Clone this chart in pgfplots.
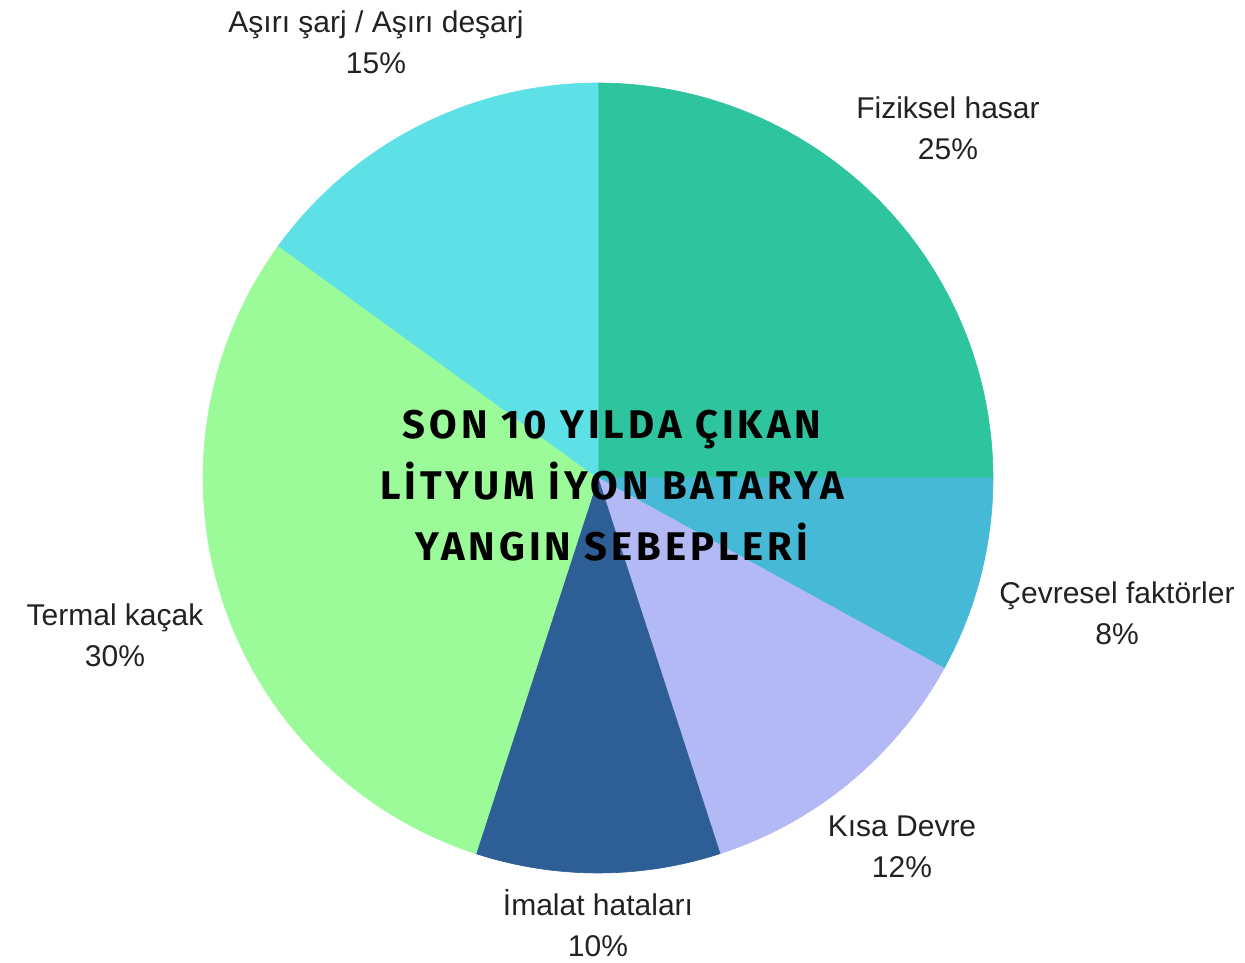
\documentclass[border=0pt]{standalone}
\usepackage{fontspec}
\setmainfont{Liberation Sans}
\newfontfamily\titlefont[LetterSpace=10]{Fira Sans}
\usepackage{pgfplots}
\pgfplotsset{compat=1.18}
\definecolor{cFiz}{HTML}{2EC49E}
\definecolor{cCev}{HTML}{45B9D6}
\definecolor{cKisa}{HTML}{B2B9F4}
\definecolor{cIma}{HTML}{2E5E96}
\definecolor{cTer}{HTML}{9CFB99}
\definecolor{cAsi}{HTML}{5DE0E6}
\definecolor{lbl}{HTML}{222222}
% #1 = cumulative percent before the slice, #2 = percent of the slice, #3 = colour
\newcommand{\slice}[3]{%
  \pgfmathsetmacro\sa{90-3.6*(#1)}%
  \pgfmathsetmacro\sb{90-3.6*(#1+#2)}%
  \edef\temp{\noexpand\addplot[fill=#3, draw=#3, line width=0.3pt, domain=\sb:\sa, samples=120] ({cos(x)},{sin(x)}) -- (axis cs:0,0) -- cycle;}%
  \temp
}
\begin{document}
\begin{tikzpicture}
\path[use as bounding box] (0,0) rectangle (622.5pt,481pt);
\begin{axis}[at={(299pt,242pt)}, anchor=center, width=395pt, height=395pt,
  scale only axis, xmin=-1, xmax=1, ymin=-1, ymax=1, hide axis, clip=false]
  \slice{0}{25}{cFiz}
  \slice{25}{8}{cCev}
  \slice{33}{12}{cKisa}
  \slice{45}{10}{cIma}
  \slice{55}{30}{cTer}
  \slice{85}{15}{cAsi}
\end{axis}
\begin{scope}[every node/.style={align=center, text=lbl, font=\fontsize{15}{20.5}\selectfont}]
\node at (188pt,459.75pt) {Aşırı şarj / Aşırı deşarj\\15\%};
\node at (474pt,417pt) {Fiziksel hasar\\25\%};
\node at (558.5pt,174.25pt) {Çevresel faktörler\\8\%};
\node at (451pt,57.5pt) {Kısa Devre\\12\%};
\node at (299pt,19.5pt) {İmalat hataları\\10\%};
\node at (57.5pt,163.25pt) {Termal kaçak\\30\%};
\end{scope}
\node[align=center, text=black, font=\titlefont\bfseries\fontsize{20}{30.5}\selectfont] at (306pt,238pt)
  {SON 10 YILDA ÇIKAN\\LİTYUM İYON BATARYA\\YANGIN SEBEPLERİ};
\end{tikzpicture}
\end{document}
